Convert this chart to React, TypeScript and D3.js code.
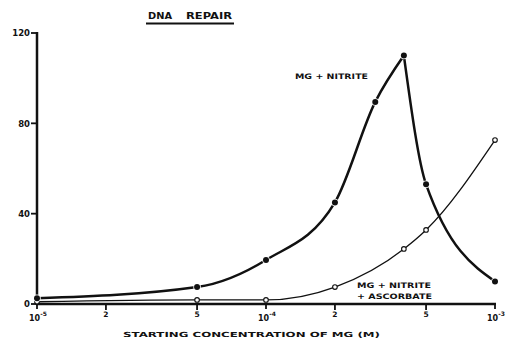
import React, { useEffect, useRef } from "react";
import * as d3 from "d3";

// starting concentration of MG (M)
const concNitrite = [1e-5, 5e-5, 1e-4, 2e-4, 3e-4, 4e-4, 5e-4, 1e-3];
const repairNitrite = [2.5, 7.5, 19.5, 45, 89.5, 110, 53, 10];

const concAscorbate = [1e-5, 5e-5, 1e-4, 2e-4, 4e-4, 5e-4, 1e-3];
const repairAscorbate = [1, 1.8, 1.8, 7.5, 24.4, 32.8, 72.6];

const yTicks = [0, 40, 80, 120];
const decadeTicks = [
  { v: 1e-5, exp: "-5" },
  { v: 1e-4, exp: "-4" },
  { v: 1e-3, exp: "-3" },
];
const minorTicks = [
  { v: 2e-5, label: "2" },
  { v: 5e-5, label: "5" },
  { v: 2e-4, label: "2" },
  { v: 5e-4, label: "5" },
];

const FONT = "'DejaVu Sans', Verdana, sans-serif";

const App = () => {
  const svgRef = useRef<SVGSVGElement>(null);

  useEffect(() => {
    const width = 507, height = 345;
    const svg = d3.select(svgRef.current).attr("width", width).attr("height", height);
    svg.selectAll("*").remove();

    const x = d3.scaleLog().domain([1e-5, 1e-3]).range([37, 495]);
    const y = d3.scaleLinear().domain([0, 120]).range([304, 33]);

    const label = (tx: number, ty: number, size: number, len: number | null, str: string) => {
      const t = svg.append("text")
        .attr("x", tx).attr("y", ty)
        .attr("font-family", FONT).attr("font-weight", "bold").attr("font-size", size)
        .attr("fill", "#111")
        .text(str);
      if (len) t.attr("textLength", len).attr("lengthAdjust", "spacingAndGlyphs");
      return t;
    };

    // title
    label(148, 19, 8, 24, "DNA");
    label(186, 19, 8, 46, "REPAIR");
    svg.append("line")
      .attr("x1", 146).attr("x2", 234).attr("y1", 23.5).attr("y2", 23.5)
      .attr("stroke", "#111").attr("stroke-width", 2);

    // axes
    svg.append("line")
      .attr("x1", x(1e-5)).attr("x2", x(1e-5)).attr("y1", y(120) - 1).attr("y2", y(0) + 1)
      .attr("stroke", "#111").attr("stroke-width", 2.5);
    svg.append("line")
      .attr("x1", x(1e-5) - 1).attr("x2", x(1e-3) + 1).attr("y1", y(0)).attr("y2", y(0))
      .attr("stroke", "#111").attr("stroke-width", 2.5);

    yTicks.forEach(t => {
      svg.append("line")
        .attr("x1", 31).attr("x2", 37).attr("y1", y(t)).attr("y2", y(t))
        .attr("stroke", "#111").attr("stroke-width", 1.8);
      label(30, y(t) + 3.2, 8.5, null, String(t)).attr("text-anchor", "end");
    });

    decadeTicks.forEach(d => {
      const px = x(d.v);
      svg.append("line")
        .attr("x1", px).attr("x2", px).attr("y1", y(0)).attr("y2", y(0) + 5)
        .attr("stroke", "#111").attr("stroke-width", 1.8);
      const t = label(px - 8, y(0) + 17, 8, null, "");
      t.append("tspan").text("10");
      t.append("tspan").attr("dy", -5).attr("font-size", 6).text(d.exp);
    });

    minorTicks.forEach(d => {
      const px = x(d.v);
      svg.append("line")
        .attr("x1", px).attr("x2", px).attr("y1", y(0)).attr("y2", y(0) + 6)
        .attr("stroke", "#111").attr("stroke-width", 1.8);
      label(px, y(0) + 13, 7.5, null, d.label).attr("text-anchor", "middle");
    });

    label(123, 337, 7, 257, "STARTING CONCENTRATION OF MG (M)");

    // series: MG + nitrite (filled, sharp peak)
    const nitrite = concNitrite.map((c, i) => [c, repairNitrite[i]] as [number, number]);
    const peak = d3.maxIndex(repairNitrite);
    const line = d3.line<[number, number]>()
      .x(d => x(d[0])).y(d => y(d[1]))
      .curve(d3.curveMonotoneX);

    // MG + nitrite + ascorbate (open)
    const ascorbate = concAscorbate.map((c, i) => [c, repairAscorbate[i]] as [number, number]);
    svg.append("path")
      .attr("d", line(ascorbate))
      .attr("fill", "none").attr("stroke", "#111").attr("stroke-width", 1.3);

    [nitrite.slice(0, peak + 1), nitrite.slice(peak)].forEach(seg => {
      svg.append("path")
        .attr("d", line(seg))
        .attr("fill", "none").attr("stroke", "#111").attr("stroke-width", 2.5);
    });

    svg.selectAll("circle.asc")
      .data(ascorbate)
      .enter()
      .append("circle")
      .attr("class", "asc")
      .attr("cx", d => x(d[0])).attr("cy", d => y(d[1]))
      .attr("r", 2.3)
      .attr("fill", "white").attr("stroke", "#111").attr("stroke-width", 1.1);

    svg.selectAll("circle.nit")
      .data(nitrite)
      .enter()
      .append("circle")
      .attr("class", "nit")
      .attr("cx", d => x(d[0])).attr("cy", d => y(d[1]))
      .attr("r", 3)
      .attr("fill", "#111").attr("stroke", "white").attr("stroke-width", 1.5)
      .attr("paint-order", "stroke");

    // labels
    label(295, 79, 7.5, 73, "MG + NITRITE");
    label(357, 288, 7.5, 74, "MG + NITRITE");
    label(357, 299, 7.5, 75, "+ ASCORBATE");
  }, []);

  return (
    <svg ref={svgRef} style={{ position: "absolute", left: 0, top: 0, background: "white" }}></svg>
  );
};

export default App;
